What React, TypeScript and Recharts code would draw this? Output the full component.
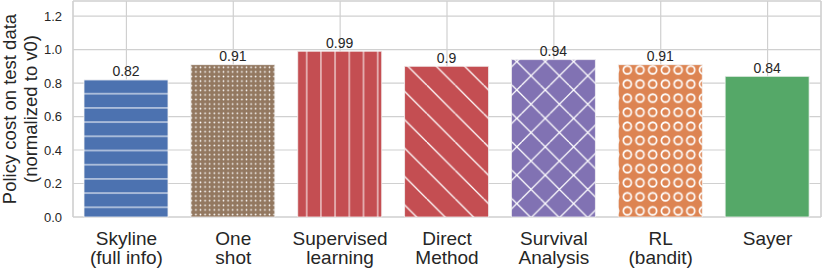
import { BarChart, Bar, XAxis, YAxis, CartesianGrid, Cell, LabelList } from 'recharts';

const categories = ['Skyline\n(full info)', 'One\nshot', 'Supervised\nlearning', 'Direct\nMethod', 'Survival\nAnalysis', 'RL\n(bandit)', 'Sayer'];
const costs = [0.82, 0.91, 0.99, 0.9, 0.94, 0.91, 0.84];
const yTicks = [0, 0.2, 0.4, 0.6, 0.8, 1.0, 1.2];
const fills = ['url(#hz)', 'url(#dots)', 'url(#vt)', 'url(#diag)', 'url(#cross)', 'url(#rings)', '#55a868'];

const FONT = '"Liberation Sans", Arial, sans-serif';
const TEXT = '#262626';
const GRID = '#d0d0d0';
const HATCH = '#ffffff';

const data = categories.map((name, i) => ({ name, cost: costs[i] }));

function CategoryTick({ x, y, payload }: any) {
  const lines = String(payload.value).split('\n');
  return (
    <text x={x} y={y} textAnchor="middle" fill={TEXT} fontSize={19} fontFamily={FONT}>
      {lines.map((l, i) => (
        <tspan key={i} x={x} dy={i === 0 ? 27.5 : 19}>{l}</tspan>
      ))}
    </text>
  );
}

function YLabel({ viewBox }: any) {
  const cy = viewBox.y + viewBox.height / 2;
  const cx = 9;
  return (
    <text x={cx} y={cy} transform={`rotate(-90 ${cx} ${cy})`} textAnchor="middle" dominantBaseline="central"
      fill={TEXT} fontSize={18.5} fontFamily={FONT}>
      <tspan x={cx} dy={0}>Policy cost on test data</tspan>
      <tspan x={cx} dy={21}>(normalized to v0)</tspan>
    </text>
  );
}

export default function App() {
  return (
    <div style={{ position: 'absolute', left: 0, top: 0 }}>
      <BarChart width={822} height={268} data={data} margin={{ top: 1, right: 1, bottom: 0, left: 0 }}>
        <defs>
          <pattern id="hz" patternUnits="userSpaceOnUse" width={20} height={14.2}>
            <rect width={20} height={14.2} fill="#4c72b0" />
            <line x1={0} x2={20} y1={8.5} y2={8.5} stroke={HATCH} strokeWidth={1.1} opacity={0.9} />
          </pattern>
          <pattern id="dots" patternUnits="userSpaceOnUse" x={0.4} y={0.6} width={4.6} height={4.6}>
            <rect width={4.6} height={4.6} fill="#937860" />
            <circle cx={2.3} cy={2.3} r={0.85} fill={HATCH} />
          </pattern>
          <pattern id="vt" patternUnits="userSpaceOnUse" width={14.2} height={20}>
            <rect width={14.2} height={20} fill="#c44e52" />
            <line x1={8.5} x2={8.5} y1={0} y2={20} stroke={HATCH} strokeWidth={1.1} opacity={0.9} />
          </pattern>
          <pattern id="diag" patternUnits="userSpaceOnUse" width={28.4} height={28.4}>
            <rect width={28.4} height={28.4} fill="#c44e52" />
            <path d="M-27.5,0 L0.9,28.4 M0.9,0 L29.3,28.4" stroke={HATCH} strokeWidth={1.3} />
          </pattern>
          <pattern id="cross" patternUnits="userSpaceOnUse" width={28.4} height={28.4}>
            <rect width={28.4} height={28.4} fill="#8172b3" />
            <path d="M-27.5,0 L0.9,28.4 M0.9,0 L29.3,28.4 M10.4,0 L-18,28.4 M38.8,0 L10.4,28.4" stroke={HATCH} strokeWidth={1.3} />
          </pattern>
          <pattern id="rings" patternUnits="userSpaceOnUse" x={-1.35} y={6.45} width={12.7} height={14.1}>
            <rect width={12.7} height={14.1} fill="#dd8452" />
            <circle cx={6.35} cy={7.05} r={4} fill="none" stroke={HATCH} strokeWidth={1.7} />
          </pattern>
        </defs>
        <CartesianGrid stroke={GRID} strokeWidth={1.2} />
        <CartesianGrid
          stroke={GRID}
          strokeWidth={1.2}
          horizontalCoordinatesGenerator={({ offset }: any) => [offset.top, offset.top + offset.height]}
          verticalCoordinatesGenerator={({ offset }: any) => [offset.left, offset.left + offset.width]}
        />
        <XAxis
          dataKey="name"
          height={51}
          axisLine={false}
          tickLine={false}
          tickSize={0}
          tickMargin={0}
          interval={0}
          tick={<CategoryTick />}
        />
        <YAxis
          width={73}
          domain={[0, 1.29]}
          ticks={yTicks}
          axisLine={false}
          tickLine={false}
          tickSize={0}
          tickMargin={11}
          tickFormatter={(v: number) => v.toFixed(1)}
          tick={{ fill: TEXT, fontSize: 13, fontFamily: FONT }}
          label={<YLabel />}
        />
        <Bar dataKey="cost" barSize={84} isAnimationActive={false} stroke="#f4f4f4" strokeWidth={0.8}>
          {data.map((d, i) => (
            <Cell key={d.name} fill={fills[i]} />
          ))}
          <LabelList dataKey="cost" position="top" offset={3.5} fill={TEXT} fontSize={14} fontFamily={FONT} />
        </Bar>
      </BarChart>
    </div>
  );
}
